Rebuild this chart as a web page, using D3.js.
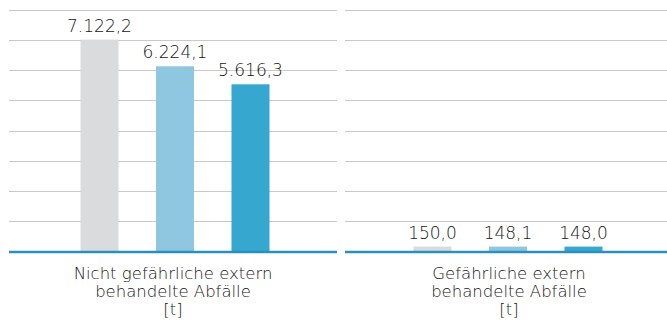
<!DOCTYPE html>
<html><head><meta charset="utf-8">
<script src="https://cdn.jsdelivr.net/npm/d3@7"></script>
<style>body{margin:0;background:#fff}svg{display:block}</style>
</head><body><svg id="c" width="667" height="322"></svg>
<script>
const categories = [["Nicht gefährliche extern","behandelte Abfälle","[t]"],["Gefährliche extern","behandelte Abfälle","[t]"]];
const series = ["s1","s2","s3"];
const values = [[7122.2, 6224.1, 5616.3],[150.0, 148.1, 148.0]];
const labels = [["7.122,2","6.224,1","5.616,3"],["150,0","148,1","148,0"]];
const colors = ["#dadbdd","#8fc7e1","#36a8cf"];
const yMax = 8120, gridCount = 8;

const svg = d3.select("#c");
const plotTop = 10, base = 251;
const y = d3.scaleLinear().domain([0, yMax]).range([base, plotTop]);
const panel = d3.scaleBand().domain(d3.range(categories.length)).range([9, 673]).paddingInner(8/336);
const font = "'DejaVu Sans', sans-serif";
const shift = [2, -1];

categories.forEach((cat, i) => {
  const px = panel(i), pw = panel.bandwidth();
  const g = svg.append("g");
  const cx = px + pw/2 + shift[i];
  const x1 = d3.scaleBand().domain(series).range([cx - 113.25, cx + 113.25]).paddingInner(0.497).paddingOuter(0.2485);
  d3.range(1, gridCount + 1).forEach(k => {
    const yy = Math.round(y(yMax*k/gridCount)) + 0.5;
    g.append("line").attr("x1", px).attr("x2", px+pw).attr("y1", yy).attr("y2", yy)
      .attr("stroke", "#c9c9c9").attr("stroke-width", 1);
  });
  series.forEach((s, j) => {
    const v = values[i][j];
    g.append("rect").attr("x", x1(s)).attr("width", x1.bandwidth())
      .attr("y", y(v)).attr("height", base - y(v)).attr("fill", colors[j]);
    g.append("text").attr("x", x1(s) + x1.bandwidth()/2).attr("y", y(v) - 8)
      .attr("text-anchor","middle").attr("font-family", font).attr("font-size", 17)
      .attr("font-weight", 200).attr("fill","#151515").text(labels[i][j]);
  });
  g.append("line").attr("x1", px).attr("x2", px+pw).attr("y1", base+1).attr("y2", base+1)
    .attr("stroke", "#2a8fbe").attr("stroke-width", 2.5);
  cat.forEach((t, l) => {
    g.append("text").attr("x", px + pw/2).attr("y", 278.5 + l*18.3)
      .attr("text-anchor","middle").attr("font-family", font).attr("font-size", 16.5)
      .attr("font-weight", 200).attr("fill","#151515").text(t);
  });
});
</script></body></html>
